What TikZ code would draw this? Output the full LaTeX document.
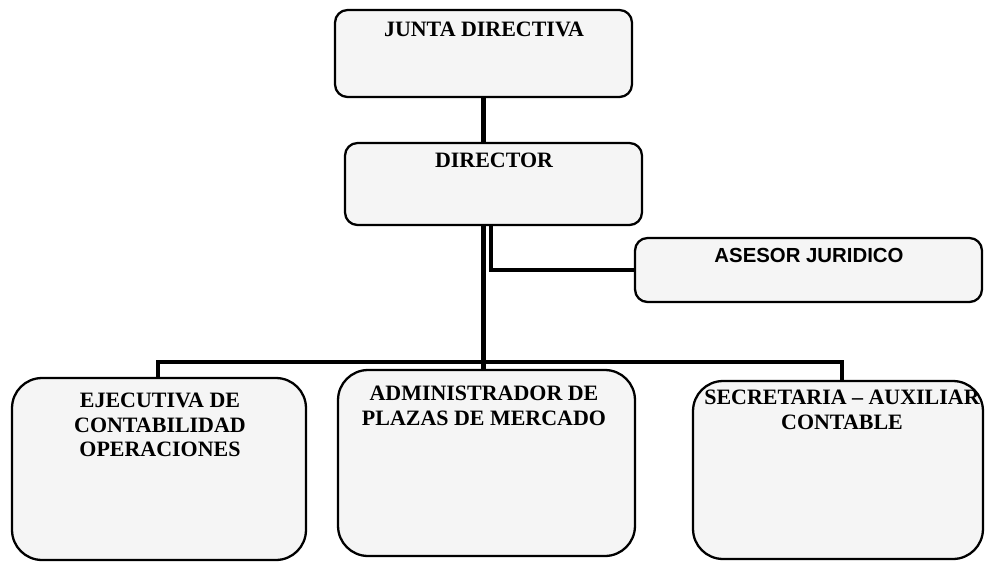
\documentclass[tikz,border=0pt]{standalone}
\usepackage{fontspec}
\setmainfont{Liberation Serif}
\newfontfamily\asesorfont{Liberation Sans}
\usepackage{tikz}

\begin{document}
\begin{tikzpicture}[x=0.02cm,y=-0.02cm,
  caja/.style={draw,line width=1.3pt,fill=black!4,rounded corners=0.25cm,inner sep=0pt},
  cajagrande/.style={caja,rounded corners=0.6cm},
  texto/.style={font=\bfseries\fontsize{12.5}{14}\selectfont,align=center,inner sep=0pt},
  linea/.style={line width=2.8pt}]
\useasboundingbox (0,0) rectangle (985,562);

\node[caja,minimum width=5.94cm,minimum height=1.74cm] (junta) at (483.5,53.5) {};
\node[caja,minimum width=5.94cm,minimum height=1.64cm] (director) at (493.5,184) {};
\node[caja,minimum width=6.94cm,minimum height=1.28cm] (asesor) at (808.5,270) {};
\node[cajagrande,minimum width=5.88cm,minimum height=3.64cm] (ejecutiva) at (159,469) {};
\node[cajagrande,minimum width=5.94cm,minimum height=3.72cm] (admin) at (486.5,463) {};
\node[cajagrande,minimum width=5.80cm,minimum height=3.56cm] (secretaria) at (838,470) {};

\node[texto] (juntatxt) at (484,29) {JUNTA DIRECTIVA};
\node[texto] (directortxt) at (494,160) {DIRECTOR};
\node[texto,font=\asesorfont\bfseries\fontsize{11.6}{14}\selectfont] (asesortxt) at (809,255) {ASESOR JURIDICO};
\node[texto] (ejecutivatxt) at (160,425) {EJECUTIVA DE\\CONTABILIDAD\\OPERACIONES};
\node[texto] (admintxt) at (484,406) {ADMINISTRADOR DE\\PLAZAS DE MERCADO};
\node[texto] (secretariatxt) at (842,410) {SECRETARIA – AUXILIAR\\CONTABLE};

\coordinate (bus) at (485,362);

\draw[linea] (junta.south) -- (junta.south |- director.north);
\draw[linea] (junta.south |- director.south) -- (junta.south |- admin.north);
\draw[linea] ([xshift=0.15cm]junta.south |- director.south) |- (asesor.west);
\draw[linea] ([xshift=-0.02cm]ejecutiva.north) |- (bus) -| ([xshift=0.08cm]secretaria.north);
\end{tikzpicture}
\end{document}
